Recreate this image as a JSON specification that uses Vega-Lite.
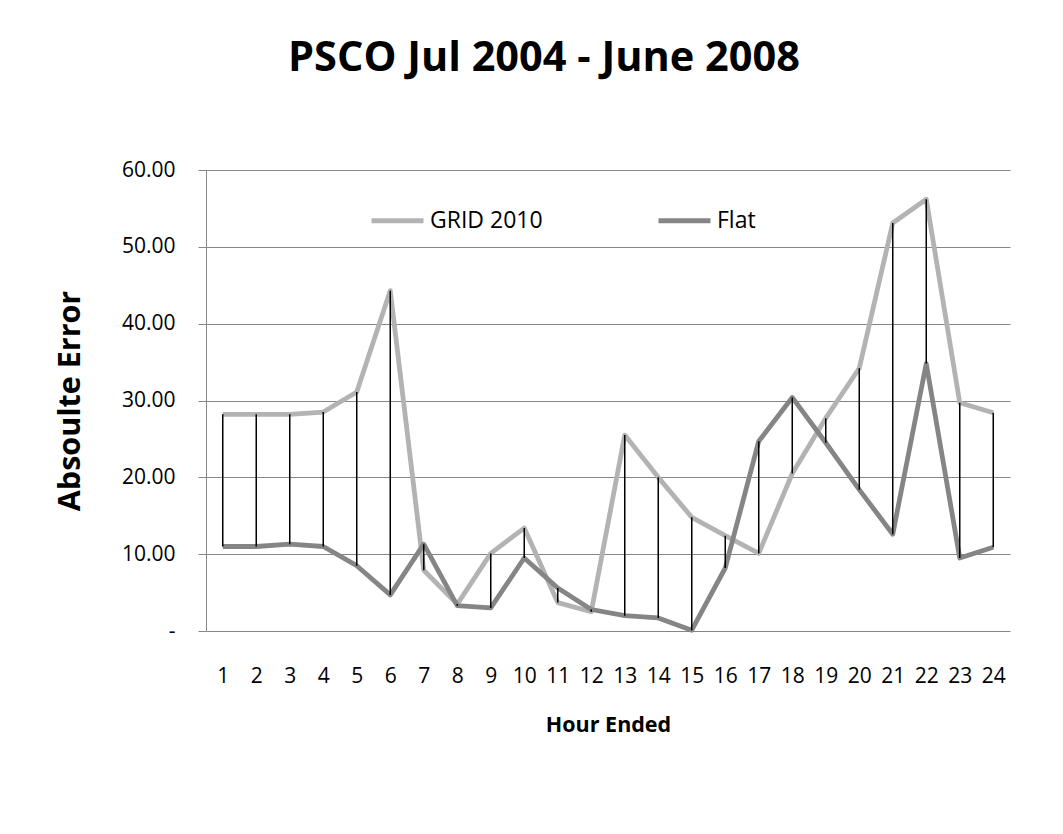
{
  "$schema": "https://vega.github.io/schema/vega-lite/v6.json",
  "autosize": {"type": "none"},
  "width": 804,
  "height": 461,
  "padding": {"left": 206, "top": 170, "right": 53, "bottom": 203},
  "background": "white",
  "title": {
    "text": "PSCO Jul 2004 - June 2008",
    "font": "Open Sans",
    "fontSize": 41.5,
    "fontWeight": "bold",
    "color": "black",
    "anchor": "middle",
    "dx": -64,
    "offset": 80
  },
  "config": {"view": {"stroke": null}},
  "data": {
    "values": [
      {"hour": 1, "GRID 2010": 28.2, "Flat": 11.0},
      {"hour": 2, "GRID 2010": 28.2, "Flat": 11.0},
      {"hour": 3, "GRID 2010": 28.2, "Flat": 11.3},
      {"hour": 4, "GRID 2010": 28.5, "Flat": 11.0},
      {"hour": 5, "GRID 2010": 31.1, "Flat": 8.5},
      {"hour": 6, "GRID 2010": 44.3, "Flat": 4.7},
      {"hour": 7, "GRID 2010": 7.9, "Flat": 11.3},
      {"hour": 8, "GRID 2010": 3.5, "Flat": 3.3},
      {"hour": 9, "GRID 2010": 10.1, "Flat": 3.0},
      {"hour": 10, "GRID 2010": 13.4, "Flat": 9.5},
      {"hour": 11, "GRID 2010": 3.7, "Flat": 5.6},
      {"hour": 12, "GRID 2010": 2.5, "Flat": 2.8},
      {"hour": 13, "GRID 2010": 25.5, "Flat": 2.0},
      {"hour": 14, "GRID 2010": 20.0, "Flat": 1.7},
      {"hour": 15, "GRID 2010": 14.8, "Flat": 0.1},
      {"hour": 16, "GRID 2010": 12.4, "Flat": 8.2},
      {"hour": 17, "GRID 2010": 10.1, "Flat": 24.7},
      {"hour": 18, "GRID 2010": 20.5, "Flat": 30.4},
      {"hour": 19, "GRID 2010": 27.7, "Flat": 24.5},
      {"hour": 20, "GRID 2010": 34.2, "Flat": 18.4},
      {"hour": 21, "GRID 2010": 53.1, "Flat": 12.6},
      {"hour": 22, "GRID 2010": 56.2, "Flat": 34.8},
      {"hour": 23, "GRID 2010": 29.7, "Flat": 9.5},
      {"hour": 24, "GRID 2010": 28.4, "Flat": 10.9}
    ]
  },
  "encoding": {
    "x": {
      "field": "hour",
      "type": "ordinal",
      "title": "Hour Ended",
      "scale": {"type": "point", "padding": 0.5},
      "axis": {
        "labelAngle": 0,
        "labelFont": "Open Sans",
        "labelFontSize": 21,
        "labelColor": "black",
        "ticks": false,
        "domain": false,
        "grid": false,
        "labelPadding": 34,
        "titleFont": "Open Sans",
        "titleFontSize": 21.5,
        "titleFontWeight": "bold",
        "titleColor": "black",
        "titlePadding": 28
      }
    }
  },
  "layer": [
    {
      "transform": [{"fold": ["GRID 2010", "Flat"], "as": ["series", "value"]}],
      "mark": {"type": "line", "strokeWidth": 4.8, "strokeJoin": "round"},
      "encoding": {
        "y": {
          "field": "value",
          "type": "quantitative",
          "title": "Absoulte Error",
          "scale": {"domain": [0, 60]},
          "axis": {
            "values": [0, 10, 20, 30, 40, 50, 60],
            "labelExpr": "datum.value === 0 ? '-\u2002' : format(datum.value, '.2f')",
            "labelFont": "Open Sans",
            "labelFontSize": 21,
            "labelColor": "black",
            "labelPadding": 23,
            "tickSize": 8,
            "tickColor": "#868686",
            "domainColor": "#868686",
            "gridColor": "#868686",
            "grid": true,
            "titleFont": "Open Sans",
            "titleFontSize": 30.5,
            "titleFontWeight": "bold",
            "titleColor": "black",
            "titlePadding": 36
          }
        },
        "color": {
          "field": "series",
          "type": "nominal",
          "title": null,
          "scale": {"domain": ["GRID 2010", "Flat"], "range": ["#B3B3B3", "#858585"]},
          "legend": {
            "orient": "none",
            "legendX": 163,
            "legendY": 22,
            "direction": "horizontal",
            "symbolType": "stroke",
            "symbolSize": 2704,
            "symbolStrokeWidth": 5,
            "labelFont": "Open Sans",
            "labelFontSize": 23,
            "labelColor": "black",
            "labelOffset": 4,
            "columnPadding": 105,
            "padding": 0
          }
        }
      }
    },
    {
      "mark": {"type": "rule", "color": "black", "strokeWidth": 1.5},
      "encoding": {
        "y": {"field": "GRID 2010", "type": "quantitative", "title": "Absoulte Error"},
        "y2": {"field": "Flat"}
      }
    }
  ]
}
